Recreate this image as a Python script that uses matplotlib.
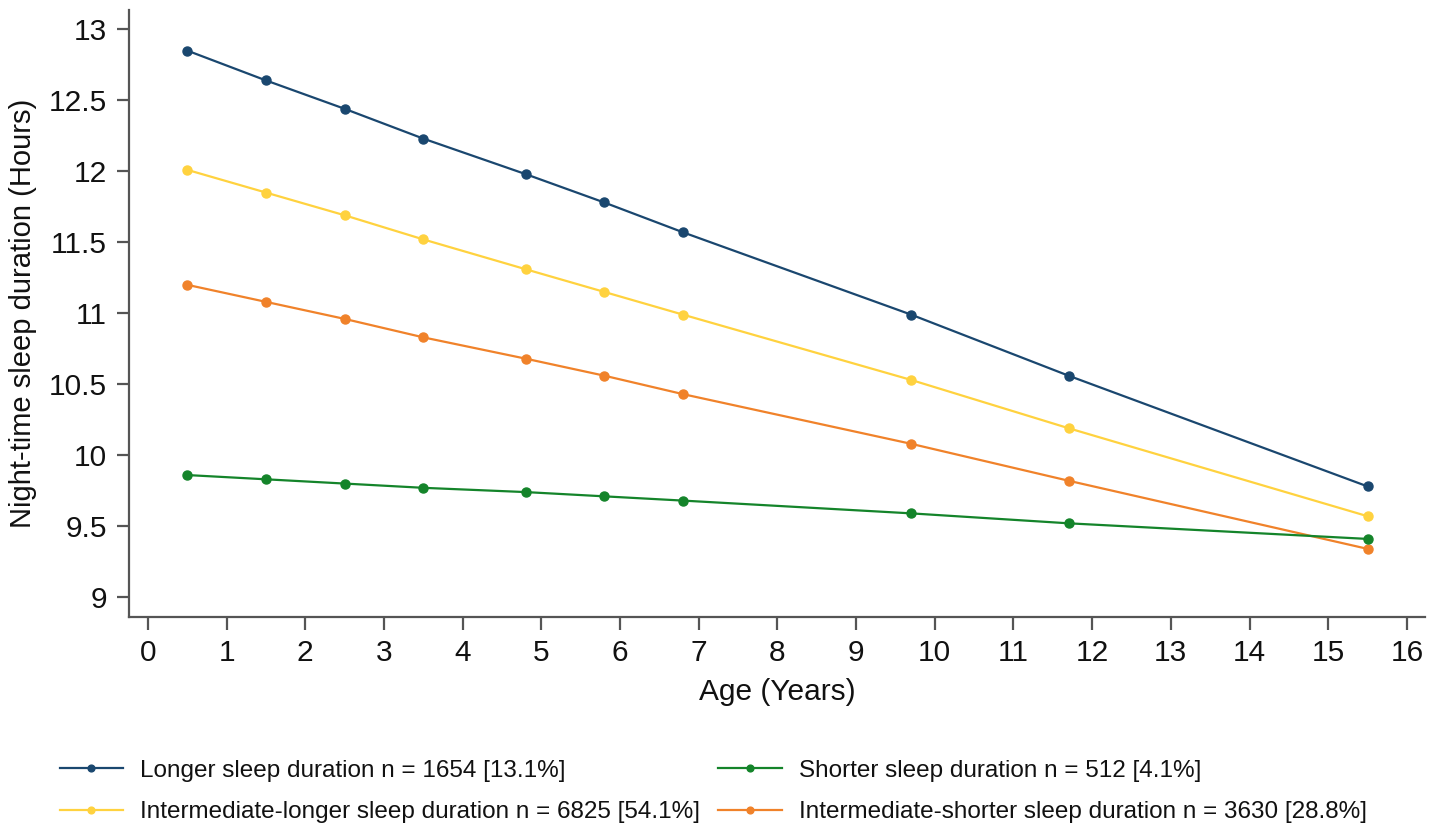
import numpy as np
import matplotlib
matplotlib.use("Agg")
import matplotlib.pyplot as plt

plt.rcParams['font.family'] = ['Liberation Sans', 'DejaVu Sans']

# ages (years) at each measurement
age = [0.5, 1.5, 2.5, 3.5, 4.8, 5.8, 6.8, 9.7, 11.7, 15.5]

longer = [12.85, 12.64, 12.44, 12.23, 11.98, 11.78, 11.57, 10.99, 10.56, 9.78]
inter_longer = [12.01, 11.85, 11.69, 11.52, 11.31, 11.15, 10.99, 10.53, 10.19, 9.57]
inter_shorter = [11.20, 11.08, 10.96, 10.83, 10.68, 10.56, 10.43, 10.08, 9.82, 9.34]
shorter = [9.86, 9.83, 9.80, 9.77, 9.74, 9.71, 9.68, 9.59, 9.52, 9.41]

labels = ["Longer sleep duration n = 1654 [13.1%]",
          "Intermediate-longer sleep duration n = 6825 [54.1%]",
          "Shorter sleep duration n = 512 [4.1%]",
          "Intermediate-shorter sleep duration n = 3630 [28.8%]"]

xticks = list(range(0, 17))
yticks = [9, 9.5, 10, 10.5, 11, 11.5, 12, 12.5, 13]
ytick_labels = ["9", "9.5", "10", "10.5", "11", "11.5", "12", "12.5", "13"]

fig = plt.figure(figsize=(14.31, 8.30), dpi=100)
ax = fig.add_axes([129/1431, 1-617/830, (1425-129)/1431, (617-10)/830])

kw = dict(lw=1.6, marker='o', ms=6.5)
l1, = ax.plot(age, longer, color='#1a476f', label=labels[0], **kw)
l2, = ax.plot(age, inter_longer, color='#ffd23f', label=labels[1], **kw)
l4, = ax.plot(age, inter_shorter, color='#f0822a', label=labels[3], **kw)
l3, = ax.plot(age, shorter, color='#14842a', label=labels[2], **kw)

ax.set_xlim(-0.24, 16.23)
ax.set_ylim(8.86, 13.136)
ax.set_xticks(xticks)
ax.set_yticks(yticks)
ax.set_yticklabels(ytick_labels)
for s in ['top', 'right']:
    ax.spines[s].set_visible(False)
for s in ['left', 'bottom']:
    ax.spines[s].set_color('#555555')
    ax.spines[s].set_linewidth(1.6)
ax.tick_params(length=9, width=1.6, color='#555555', labelsize=21.5, labelcolor='#111111', pad=7)

ax.set_xlabel("Age (Years)", fontsize=21.5, color='#111111', labelpad=8)
ax.set_ylabel("Night-time sleep duration (Hours)", fontsize=21, color='#111111', labelpad=8)

fig.legend(handles=[l1, l2, l3, l4], loc='upper left', bbox_to_anchor=(38/1431, 1-738/830),
           ncol=2, frameon=False, fontsize=17.5, handlelength=2.6, handletextpad=0.7,
           columnspacing=0.75, labelspacing=0.8, markerscale=0.75, labelcolor='#111111')

fig.savefig("out.png", dpi=100)
